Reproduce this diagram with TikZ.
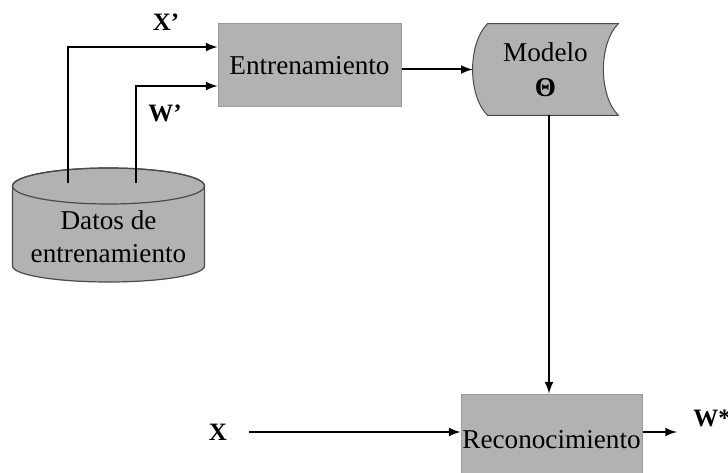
\documentclass[tikz,border=0pt]{standalone}
\usepackage{fontspec}
\setmainfont{Liberation Serif}
\usepackage{xcolor}
\usetikzlibrary{arrows, positioning, calc}

\definecolor{boxgray}{HTML}{B2B2B2}
\definecolor{edgegray}{HTML}{9A9A9A}
\definecolor{darkedge}{HTML}{4A4A4A}

\begin{document}
\begin{tikzpicture}[
            x=0.5pt, y=0.5pt,
            block/.style={rectangle, draw=edgegray, line width=0.5pt, fill=boxgray, inner sep=0pt, align=center, font=\fontsize{13.6}{16.5}\selectfont},
            tag/.style={inner sep=1pt, font=\fontsize{12.5}{14}\selectfont\bfseries},
            arrow/.style={line width=1pt, ->, >=latex}
        ]
            \useasboundingbox (0,0) rectangle (728,472);

            % blocks
            \node[block, minimum width=91.5pt, minimum height=41.5pt] (entrenamiento) at (309.5,406.5) {Entrenamiento};
            \node[block, minimum width=90.5pt, minimum height=46pt] (reconocimiento) at (551.5,32) {Reconocimiento};

            % stored model
            \node[minimum width=72.5pt, minimum height=45.5pt, inner sep=0pt] (modelo) at (545.5,402.5) {};
            \filldraw[fill=boxgray, draw=darkedge, line width=0.5pt]
                ([xshift=7.5pt]modelo.north west) -- (modelo.north east)
                .. controls +(-10pt,-10pt) and +(-10pt,10pt) .. (modelo.south east)
                -- ([xshift=7.5pt]modelo.south west)
                .. controls +(-10pt,10pt) and +(-10pt,-10pt) .. ([xshift=7.5pt]modelo.north west) -- cycle;
            \node[align=center, font=\fontsize{13.6}{17.5}\selectfont] at (modelo) {Modelo\\{\bfseries Θ}};

            % training data
            \filldraw[fill=boxgray, draw=darkedge, line width=0.6pt]
                (12.5,286) -- (12.5,206) arc[start angle=180, end angle=360, x radius=48pt, y radius=8pt]
                -- (204.5,286) arc[start angle=0, end angle=180, x radius=48pt, y radius=9pt] -- cycle;
            \draw[darkedge, line width=0.6pt] (108.5,286) ellipse[x radius=48pt, y radius=9pt];
            \node[align=center, font=\fontsize{13.6}{16.5}\selectfont] (datos) at (108.5,235.5) {Datos de\\entrenamiento};
            \coordinate (xsrc) at (67.5,289);
            \coordinate (wsrc) at (136,289);

            % labels
            \node[tag] (xp) at (166,450) {X’};
            \node[tag] (wp) at (165,359) {W’};
            \node[tag] (x) at (218,40) {X};
            \node[tag] (wstar) at (712,54) {W*};

            \draw[arrow] (xsrc) |- ([yshift=9.25pt]entrenamiento.west);
            \draw[arrow] (wsrc) |- ([yshift=-10.25pt]entrenamiento.west);
            \draw[arrow] (entrenamiento.east |- modelo.west) -- (modelo.west);
            \draw[arrow] ([xshift=1.75pt]modelo.south) -- ([xshift=1.75pt]modelo.south |- reconocimiento.north);
            \draw[arrow] ([xshift=10pt]x.east) -- (x -| reconocimiento.west);
            \draw[arrow] (reconocimiento.east |- x) -- ([xshift=-7pt]wstar.west |- x);
        \end{tikzpicture}
\end{document}
